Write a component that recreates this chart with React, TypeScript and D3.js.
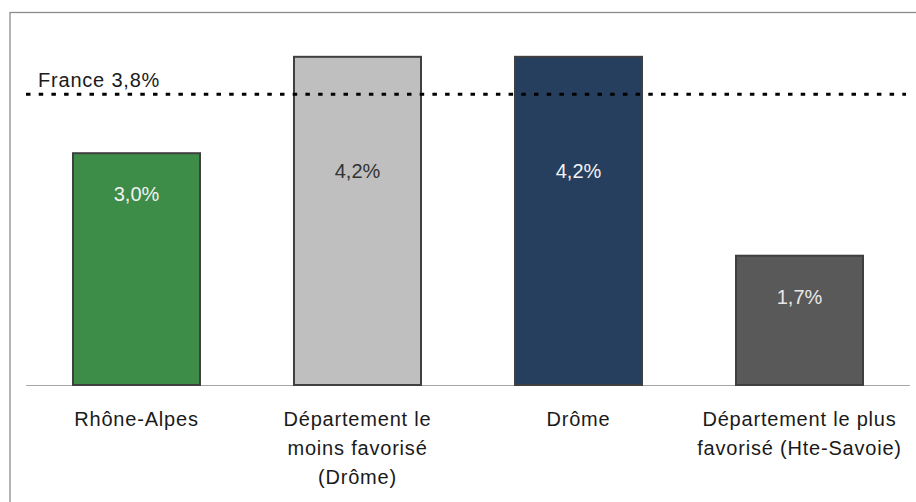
import React from "react";
import * as d3 from "d3";

const categories = ["Rhône-Alpes", "Département le moins favorisé (Drôme)", "Drôme", "Département le plus favorisé (Hte-Savoie)"];
const categoryLines = [
  ["Rhône-Alpes"],
  ["Département le", "moins favorisé", "(Drôme)"],
  ["Drôme"],
  ["Département le plus", "favorisé (Hte-Savoie)"],
];
const values = [3.03, 4.29, 4.29, 1.69];
const valueLabels = ["3,0%", "4,2%", "4,2%", "1,7%"];
const referenceValue = 3.8;
const referenceLabel = "France 3,8%";

const fills = ["#3D8C48", "#BFBFBF", "#263F5F", "#595959"];
const labelColors = ["#F2F2F2", "#333333", "#F2F2F2", "#E8E8E8"];

export default function App() {
  const W = 916, H = 502;
  const baseY = 385;
  const x = d3.scaleBand<string>().domain(categories).range([26, 910]).paddingInner(0.4253).paddingOuter(0.21265);
  const y = d3.scaleLinear().domain([0, 5]).range([baseY, 2.5]);
  const refY = y(referenceValue);
  const font = "'Liberation Sans', Arial, sans-serif";

  return (
    <svg width={W} height={H} style={{ position: "absolute", left: 0, top: 0 }} fontFamily={font}>
      <rect x={0} y={0} width={W} height={H} fill="#fff" />
      <rect x={10} y={12.5} width={W + 20} height={H + 20} fill="none" stroke="#8c8c8c" strokeWidth={1.3} />
      <line x1={26} x2={910} y1={baseY + 0.5} y2={baseY + 0.5} stroke="#a6a6a6" strokeWidth={1.2} />
      {categories.map((c, i) => {
        const bx = x(c)!;
        const by = y(values[i]);
        return (
          <rect key={c} x={bx} y={by} width={x.bandwidth()} height={baseY - by}
            fill={fills[i]} stroke="#404040" strokeWidth={2} />
        );
      })}
      <line x1={26} x2={906} y1={refY} y2={refY} stroke="#000" strokeWidth={3} strokeDasharray="4.5 8.2" />
      <text x={38} y={86.5} fontSize={20} letterSpacing={0.8} fill="#1a1a1a">{referenceLabel}</text>
      {categories.map((c, i) => {
        const cx = x(c)! + x.bandwidth() / 2;
        const top = y(values[i]);
        const ly = Math.max(top + 48, refY + 84);
        return (
          <text key={c + "v"} x={cx} y={ly} fontSize={20} textAnchor="middle" fill={labelColors[i]}>{valueLabels[i]}</text>
        );
      })}
      {categories.map((c, i) => {
        const cx = x(c)! + x.bandwidth() / 2;
        return (
          <text key={c + "l"} x={cx} y={426} fontSize={20} letterSpacing={0.8} textAnchor="middle" fill="#1a1a1a">
            {categoryLines[i].map((ln, j) => (
              <tspan key={j} x={cx} y={426 + j * 29}>{ln}</tspan>
            ))}
          </text>
        );
      })}
    </svg>
  );
}
